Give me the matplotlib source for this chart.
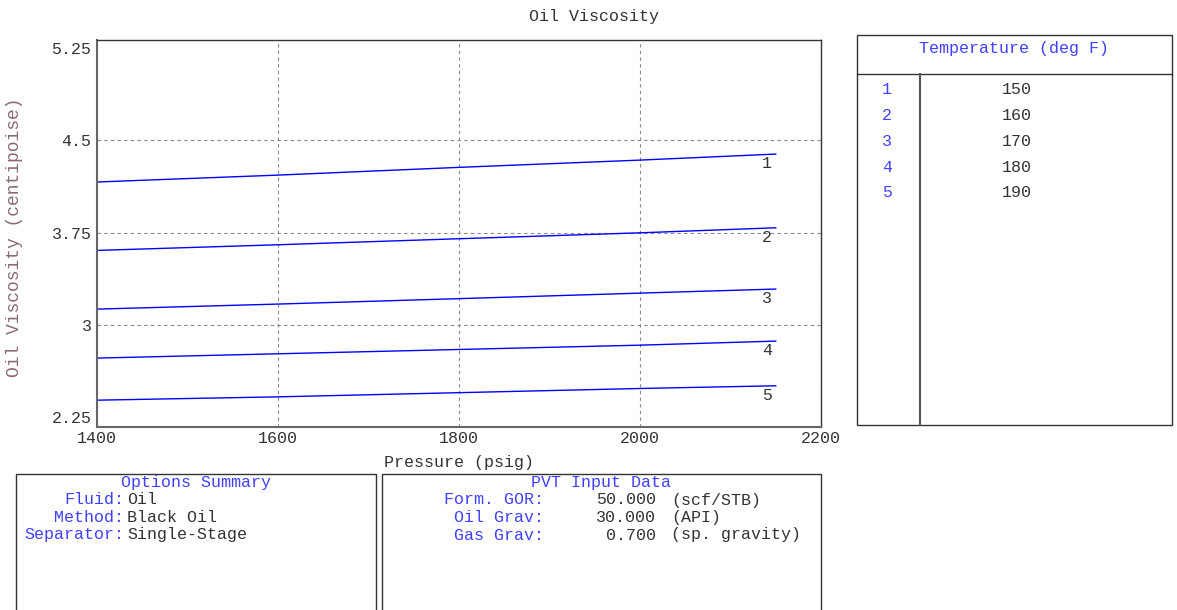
import numpy as np
import matplotlib.pyplot as plt
from matplotlib.patches import Rectangle
from matplotlib.lines import Line2D

# data
pressure = [1400, 1600, 1800, 2000, 2150]
visc_1 = [4.161, 4.217, 4.280, 4.339, 4.388]
visc_2 = [3.605, 3.651, 3.700, 3.748, 3.789]
visc_3 = [3.128, 3.169, 3.213, 3.258, 3.291]
visc_4 = [2.730, 2.765, 2.800, 2.835, 2.868]
visc_5 = [2.388, 2.415, 2.449, 2.483, 2.505]
curves = [visc_1, visc_2, visc_3, visc_4, visc_5]
curve_ids = ['1', '2', '3', '4', '5']
temps = ['150', '160', '170', '180', '190']

options_keys = ['Fluid:', 'Method:', 'Separator:']
options_vals = ['Oil', 'Black Oil', 'Single-Stage']
pvt_keys = ['Form. GOR:', 'Oil Grav:', 'Gas Grav:']
pvt_vals = ['50.000', '30.000', '0.700']
pvt_units = ['(scf/STB)', '(API)', '(sp. gravity)']

W, H = 1177, 610
plt.rcParams['font.family'] = ['Liberation Mono', 'DejaVu Sans Mono']
plt.rcParams['font.size'] = 12
blue = '#4040ff'
dark = '#333333'

fig = plt.figure(figsize=(W/100, H/100), dpi=100)

def fx(px):
    return px / W

def fy(py):
    return 1 - py / H

ax = fig.add_axes([fx(97), fy(427), fx(821) - fx(97), fy(40) - fy(427)])
for c in curves:
    ax.plot(pressure, c, color='#0000ff', lw=1)
for c, lab in zip(curves, curve_ids):
    ax.annotate(lab, (pressure[-1], c[-1]), xytext=(-10, -7), textcoords='offset points',
                ha='left', va='center', color=dark)
ax.set_xlim(1400, 2200)
ax.set_ylim(2.17, 5.315)
ax.set_xticks([1400, 1600, 1800, 2000, 2200])
ax.set_yticks([2.25, 3, 3.75, 4.5, 5.25])
ax.set_yticklabels(['2.25', '3', '3.75', '4.5', '5.25'])
ax.grid(True, color='#888888', ls=(0, (3, 3)), lw=0.8)
gl = ax.get_ygridlines()
gl[0].set_visible(False)
gl[-1].set_visible(False)
ax.tick_params(length=0, colors=dark)
ax.tick_params(axis='y', pad=4)
ax.tick_params(axis='x', pad=3)
for s in ax.spines.values():
    s.set_color('#333333')
    s.set_linewidth(1)
ax.spines['left'].set_color('#666666')
ax.spines['left'].set_linewidth(1.5)
ax.spines['bottom'].set_color('#666666')
ax.spines['bottom'].set_linewidth(1.5)
ax.set_xlabel('Pressure (psig)', color=dark, labelpad=6)
fig.text(fx(15), fy(237), 'Oil Viscosity (centipoise)', rotation=90, ha='center', va='center',
         color='#8b6b73', fontsize=13)
fig.text(fx(594), fy(16), 'Oil Viscosity', ha='center', va='center', color=dark)

# temperature table
fig.add_artist(Rectangle((fx(857), fy(425)), fx(1172) - fx(857), fy(35) - fy(425),
                         transform=fig.transFigure, fill=False, ec='#333333', lw=1))
fig.add_artist(Line2D([fx(857), fx(1172)], [fy(74), fy(74)], transform=fig.transFigure, color='#333333', lw=1))
fig.add_artist(Line2D([fx(920), fx(920)], [fy(74), fy(425)], transform=fig.transFigure, color='#555555', lw=1.5))
fig.text(fx(1014), fy(49), 'Temperature (deg F)', ha='center', va='center', color=blue)
for i, (lab, t) in enumerate(zip(curve_ids, temps)):
    yy = fy(90 + i * 25.7)
    fig.text(fx(887), yy, lab, ha='center', va='center', color=blue)
    fig.text(fx(1017), yy, t, ha='center', va='center', color=dark)

# options summary box
fig.add_artist(Rectangle((fx(16), fy(612)), fx(376) - fx(16), fy(474) - fy(612),
                         transform=fig.transFigure, fill=False, ec='#333333', lw=1, clip_on=False))
fig.text(fx(196), fy(483), 'Options Summary', ha='center', va='center', color=blue)
for i, (k, v) in enumerate(zip(options_keys, options_vals)):
    yy = fy(500 + i * 17.5)
    fig.text(fx(124), yy, k, ha='right', va='center', color=blue)
    fig.text(fx(127), yy, v, ha='left', va='center', color=dark)

# pvt input box
fig.add_artist(Rectangle((fx(382), fy(612)), fx(821) - fx(382), fy(474) - fy(612),
                         transform=fig.transFigure, fill=False, ec='#333333', lw=1, clip_on=False))
fig.text(fx(601), fy(483), 'PVT Input Data', ha='center', va='center', color=blue)
for i, (k, v, u) in enumerate(zip(pvt_keys, pvt_vals, pvt_units)):
    yy = fy(500 + i * 17.5)
    fig.text(fx(544), yy, k, ha='right', va='center', color=blue)
    fig.text(fx(656), yy, v, ha='right', va='center', color=dark)
    fig.text(fx(671), yy, u, ha='left', va='center', color=dark)

fig.savefig('out.png', dpi=100, facecolor='white')
